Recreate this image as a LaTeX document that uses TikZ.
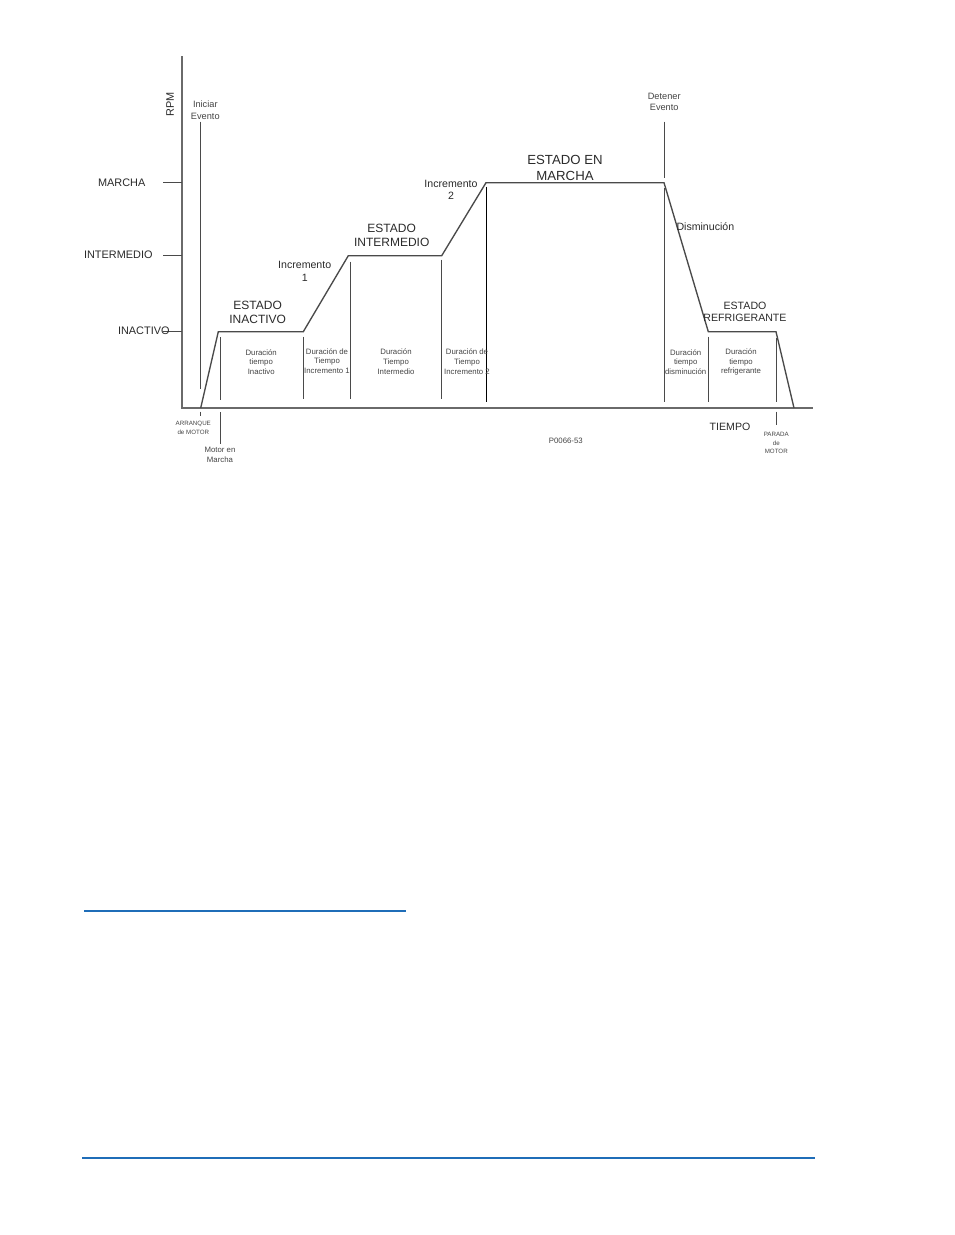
\documentclass[tikz,border=0pt]{standalone}
\usepackage{fontspec}
\setmainfont{Liberation Sans}
\definecolor{lgray}{HTML}{4A4A4A}
\definecolor{axgray}{HTML}{6A6A6A}
\definecolor{txt}{HTML}{2A2A2A}
\definecolor{stxt}{HTML}{444444}
\definecolor{pblue}{HTML}{1F6DB8}
\begin{document}
\begin{tikzpicture}[x=1pt,y=-1pt,
  every node/.style={inner sep=0pt,outer sep=0pt},
  prof/.style={line width=1.35pt,draw=lgray,line join=miter},
  vline/.style={line width=1.0pt,draw=lgray},
  axisline/.style={line width=1.7pt,draw=axgray},
  lvl/.style={font=\fontsize{10.9}{13}\selectfont,text=txt},
  bigl/.style={font=\fontsize{12}{14.5}\selectfont,text=txt,align=center},
  hugel/.style={font=\fontsize{13.2}{15.7}\selectfont,text=txt,align=center},
  medl/.style={font=\fontsize{10.6}{12.5}\selectfont,text=txt,align=center},
  evl/.style={font=\fontsize{9.2}{11.8}\selectfont,text=stxt,align=center},
  durl/.style={font=\fontsize{7.8}{9.8}\selectfont,text=stxt,align=center},
  tinyl/.style={font=\fontsize{6.2}{8.6}\selectfont,text=stxt,align=center},
  blueline/.style={line width=1.4pt,draw=pblue}]
\useasboundingbox (0,0) rectangle (954,1235);

% axes
\coordinate (ytop) at (181.7,56);
\coordinate (orig) at (181.7,408);
\coordinate (xend) at (812.7,408);
\draw[axisline] (ytop) -- (orig) -- (xend);

% level ticks
\coordinate (tm0) at (163,182.7); \coordinate (tm1) at (181.7,182.7);
\coordinate (ti0) at (163,255);   \coordinate (ti1) at (181.7,255);
\coordinate (tn0) at (163,331.7); \coordinate (tn1) at (181.7,331.7);
\draw[vline] (tm0) -- (tm1);
\draw[vline] (ti0) -- (ti1);
\draw[vline] (tn0) -- (tn1);

\node[lvl] (lmarcha) at (121.7,182.3) {MARCHA};
\node[lvl] (linter) at (118.3,254.5) {INTERMEDIO};
\node[lvl] (linact) at (143.8,331.2) {INACTIVO};
\node[lvl,rotate=90] (rpm) at (170,104.5) {RPM};

% profile
\coordinate (p0) at (200.7,408);
\coordinate (p1) at (218.3,331.7);
\coordinate (p2) at (303.3,331.7);
\coordinate (p3) at (348.3,255.7);
\coordinate (p4) at (441.7,255.7);
\coordinate (p5) at (486,182.7);
\coordinate (p6) at (664,182.7);
\coordinate (p7) at (708.3,331.7);
\coordinate (p8) at (776,331.7);
\coordinate (p9) at (794,408);
\draw[prof] (p0) -- (p1) -- (p2) -- (p3) -- (p4) -- (p5) -- (p6) -- (p7) -- (p8) -- (p9);

% vertical markers
\coordinate (ie0) at (200.7,121.7); \coordinate (ie1) at (200.7,389);
\draw[vline] (ie0) -- (ie1);
\coordinate (mm0) at (220,337); \coordinate (mm1) at (220,400);
\draw[vline] (mm0) -- (mm1);
\coordinate (mm2) at (220,412); \coordinate (mm3) at (220,443.5);
\draw[vline] (mm2) -- (mm3);
\coordinate (am0) at (200.7,411.7); \coordinate (am1) at (200.7,416.3);
\draw[vline] (am0) -- (am1);
\coordinate (v1a) at (303.3,336.7); \coordinate (v1b) at (303.3,399.3);
\draw[vline] (v1a) -- (v1b);
\coordinate (v2a) at (350,261.7); \coordinate (v2b) at (350,399.3);
\draw[vline] (v2a) -- (v2b);
\coordinate (v3a) at (441.7,259.5); \coordinate (v3b) at (441.7,399.3);
\draw[vline] (v3a) -- (v3b);
\coordinate (v4a) at (486.7,186.7); \coordinate (v4b) at (486.7,401.7);
\draw[vline,draw=black] (v4a) -- (v4b);
\coordinate (de0) at (664,121.7); \coordinate (de1) at (664,178);
\draw[vline] (de0) -- (de1);
\coordinate (v5a) at (664,188); \coordinate (v5b) at (664,401.7);
\draw[vline] (v5a) -- (v5b);
\coordinate (v6a) at (708.3,336.7); \coordinate (v6b) at (708.3,401.7);
\draw[vline] (v6a) -- (v6b);
\coordinate (v7a) at (776,338); \coordinate (v7b) at (776,401.7);
\draw[vline] (v7a) -- (v7b);
\coordinate (v7c) at (776,411.7); \coordinate (v7d) at (776,425);
\draw[vline] (v7c) -- (v7d);

% labels
\node[evl] (iniciar) at (205.3,110.5) {Iniciar\\Evento};
\node[evl] (detener) at (664.2,101.8) {Detener\\Evento};
\node[bigl] (einact) at (257.7,312.2) {ESTADO\\INACTIVO};
\node[bigl] (einter) at (391.7,235.3) {ESTADO\\INTERMEDIO};
\node[hugel] (emarcha) at (565,167.8) {ESTADO EN\\MARCHA};
\node[medl] (erefri) at (745,312) {ESTADO\\REFRIGERANTE};
\node[medl] (inc1) at (304.7,271.3) {Incremento\\1};
\node[medl] (inc2) at (451,189.7) {Incremento\\2};
\node[medl,anchor=west] (dism) at (676.5,227) {Disminución};
\node[medl] (tiempo) at (730,426.7) {TIEMPO};

\node[durl] (d1) at (261.2,362) {Duración\\tiempo\\Inactivo};
\node[durl] (d2) at (327,361) {Duración de\\Tiempo\\Incremento 1};
\node[durl] (d3) at (396,361.5) {Duración\\Tiempo\\Intermedio};
\node[durl] (d4) at (467,361.5) {Duración de\\Tiempo\\Incremento 2};
\node[durl] (d5) at (685.7,362) {Duración\\tiempo\\disminución};
\node[durl] (d6) at (741,362) {Duración\\tiempo\\refrigerante};

\node[tinyl] (arr) at (193.3,427.8) {ARRANQUE\\de MOTOR};
\node[durl] (motor) at (220,454.8) {Motor en\\Marcha};
\node[tinyl] (parada) at (776.3,443.2) {PARADA\\de\\MOTOR};
\node[durl] (pcode) at (565.8,440.7) {P0066-53};

% blue rules
\coordinate (b1a) at (84,911); \coordinate (b1b) at (406,911);
\draw[blueline,line width=1.2pt] (b1a) -- (b1b);
\coordinate (b2a) at (82,1158); \coordinate (b2b) at (815,1158);
\draw[blueline] (b2a) -- (b2b);
\end{tikzpicture}
\end{document}
